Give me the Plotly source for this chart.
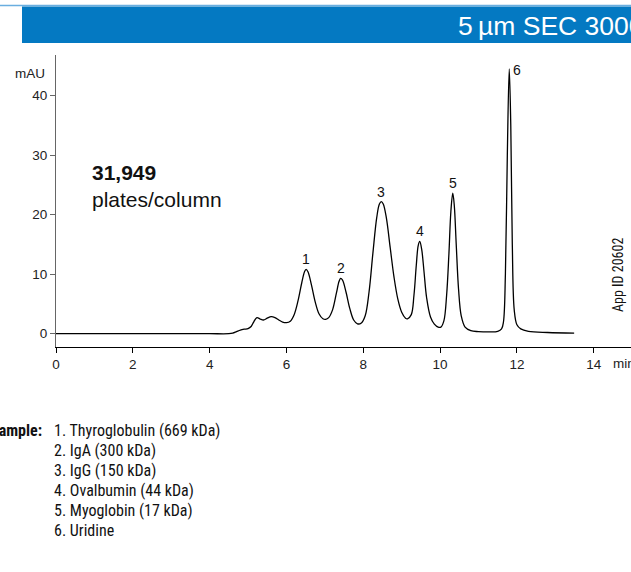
import plotly.graph_objects as go

# chromatogram (min, mAU)
time_min = [0.0, 1.0, 2.0, 3.0, 4.0, 4.5, 4.6, 4.7, 4.8, 4.9, 5.0, 5.08, 5.15, 5.23, 5.32, 5.4,
            5.5, 5.6, 5.7, 5.8, 5.9, 6.0, 6.1, 6.2, 6.3, 6.4, 6.47, 6.51, 6.56, 6.65, 6.75,
            6.85, 6.95, 7.02, 7.1, 7.2, 7.3, 7.37, 7.41, 7.46, 7.55, 7.65, 7.75, 7.85, 7.95,
            8.05, 8.15, 8.25, 8.35, 8.42, 8.47, 8.52, 8.6, 8.7, 8.8, 8.9, 9.0, 9.1, 9.15,
            9.25, 9.32, 9.38, 9.43, 9.47, 9.52, 9.58, 9.65, 9.75, 9.85, 9.95, 10.02, 10.1,
            10.17, 10.23, 10.28, 10.33, 10.37, 10.42, 10.48, 10.55, 10.65, 10.8, 11.0, 11.3,
            11.5, 11.6, 11.65, 11.7, 11.75, 11.8, 11.84, 11.88, 11.93, 12.0, 12.1, 12.3,
            12.8, 13.49]
signal_mau = [0.0, 0.0, 0.0, 0.0, 0.0, 0.0, 0.1, 0.35, 0.6, 0.75, 0.85, 1.2, 2.0, 2.7, 2.45, 2.3,
              2.6, 2.85, 2.7, 2.3, 1.95, 1.85, 2.1, 3.2, 5.5, 8.6, 10.4, 10.8, 10.4, 8.2, 5.3,
              3.3, 2.5, 2.4, 2.7, 4.0, 6.8, 8.8, 9.3, 9.0, 7.0, 4.2, 2.3, 1.65, 1.8,
              3.0, 7.0, 13.5, 19.5, 21.8, 22.2, 21.8, 19.5, 14.5, 9.5, 5.8, 3.6, 2.6, 2.5,
              3.2, 6.5, 11.5, 14.8, 15.5, 14.2, 10.5, 6.0, 2.8, 1.6, 1.1, 1.1, 2.2,
              6.5, 13.5, 20.5, 23.6, 21.5, 15.0, 7.5, 3.0, 1.1, 0.5, 0.35, 0.3,
              0.4, 0.8, 2.0, 10.0, 30.0, 44.5, 35.0, 15.0, 4.0, 1.5, 0.8, 0.4,
              0.2, 0.1]

peak_ids = ["1", "2", "3", "4", "5", "6"]
peak_times = [6.51, 7.41, 8.47, 9.47, 10.33, 11.8]
peak_heights = [10.8, 9.3, 22.2, 15.5, 23.6, 44.5]

sample_names = ["1. Thyroglobulin (669 kDa)", "2. IgA (300 kDa)", "3. IgG (150 kDa)",
                "4. Ovalbumin (44 kDa)", "5. Myoglobin (17 kDa)", "6. Uridine"]

x_ticks = [0, 2, 4, 6, 8, 10, 12, 14]
y_ticks = [0, 10, 20, 30, 40]

FONT = "Liberation Sans, Arial, Helvetica, sans-serif"
NARROW = "Liberation Sans Narrow, Arial Narrow, Roboto Condensed, Liberation Sans, sans-serif"

fig = go.Figure()
fig.add_trace(go.Scatter(x=time_min, y=signal_mau, mode="lines", line_shape="spline",
                         line=dict(color="black", width=1.3), hoverinfo="skip", showlegend=False))

# plot box: px 56..631 wide, 55..347 high
def px_x(p):
    return (p - 56) / 575.0

def px_y(p):
    return (347 - p) / 292.0

anns = []
for pid, t, h in zip(peak_ids, peak_times, peak_heights):
    if pid == "6":
        anns.append(dict(x=t, y=h, xref="x", yref="y", text=pid, showarrow=False,
                         xanchor="left", yanchor="middle", xshift=2, yshift=-1,
                         font=dict(family=FONT, size=14, color="#111")))
    else:
        anns.append(dict(x=t, y=h, xref="x", yref="y", text=pid, showarrow=False,
                         xanchor="center", yanchor="bottom", yshift=0,
                         font=dict(family=FONT, size=14, color="#111")))

anns.append(dict(x=px_x(90), y=px_y(172), xref="paper", yref="paper", text="<b>31,949</b>",
                 showarrow=False, xanchor="left", yanchor="middle",
                 font=dict(family=FONT, size=21, color="#111")))
anns.append(dict(x=px_x(90), y=px_y(199), xref="paper", yref="paper", text="plates/column",
                 showarrow=False, xanchor="left", yanchor="middle",
                 font=dict(family=FONT, size=21, color="#111")))
anns.append(dict(x=px_x(47), y=px_y(73), xref="paper", yref="paper", text="mAU",
                 showarrow=False, xanchor="right", yanchor="middle",
                 font=dict(family=FONT, size=13.5, color="#222")))
anns.append(dict(x=px_x(611), y=px_y(364), xref="paper", yref="paper", text="min",
                 showarrow=False, xanchor="left", yanchor="middle",
                 font=dict(family=FONT, size=13.5, color="#222")))
anns.append(dict(x=px_x(618), y=px_y(275), xref="paper", yref="paper", text="App ID 20602",
                 showarrow=False, textangle=-90, xanchor="center", yanchor="middle",
                 font=dict(family=NARROW, size=14, color="#111")))
anns.append(dict(x=px_x(456), y=px_y(26), xref="paper", yref="paper", text="5\u2009µm SEC 3000",
                 showarrow=False, xanchor="left", yanchor="middle",
                 font=dict(family=FONT, size=26.5, color="white")))

anns.append(dict(x=px_x(44), y=px_y(430), xref="paper", yref="paper", text="<b>Sample:</b>",
                 showarrow=False, xanchor="right", yanchor="middle",
                 font=dict(family=NARROW, size=16, color="#111")))
for i, name in enumerate(sample_names):
    anns.append(dict(x=px_x(52), y=px_y(430 + 20 * i), xref="paper", yref="paper", text=name,
                     showarrow=False, xanchor="left", yanchor="middle",
                     font=dict(family=NARROW, size=16, color="#111")))

shapes = [
    dict(type="line", xref="paper", yref="paper", x0=px_x(0), x1=px_x(640), y0=px_y(5.5), y1=px_y(5.5),
         line=dict(color="#6aaee0", width=1.5)),
    dict(type="rect", xref="paper", yref="paper", x0=px_x(22), x1=px_x(640), y0=px_y(43), y1=px_y(6.5),
         fillcolor="#0479c2", line=dict(width=0)),
]

fig.update_layout(
    width=631, height=572,
    margin=dict(l=56, r=0, t=55, b=225),
    plot_bgcolor="white", paper_bgcolor="white",
    annotations=anns, shapes=shapes,
    xaxis=dict(range=[0, 14.97], tickvals=x_ticks, ticks="outside", ticklen=5, tickcolor="black",
               showline=True, linecolor="black", linewidth=1.4, showgrid=False, zeroline=False,
               tickfont=dict(family=FONT, size=13.5, color="#222")),
    yaxis=dict(range=[-2.24, 46.84], tickvals=y_ticks, ticks="outside", ticklen=5, tickcolor="#666",
               showline=True, linecolor="#666", linewidth=1, showgrid=False, zeroline=False,
               tickfont=dict(family=FONT, size=13.5, color="#222")),
)

# drop the browser's default page margin so the figure sits at the window's corner
fig.write_html("out.html", config={"displayModeBar": False},
               post_script="document.body.style.margin='0';document.body.style.overflow='hidden';")
